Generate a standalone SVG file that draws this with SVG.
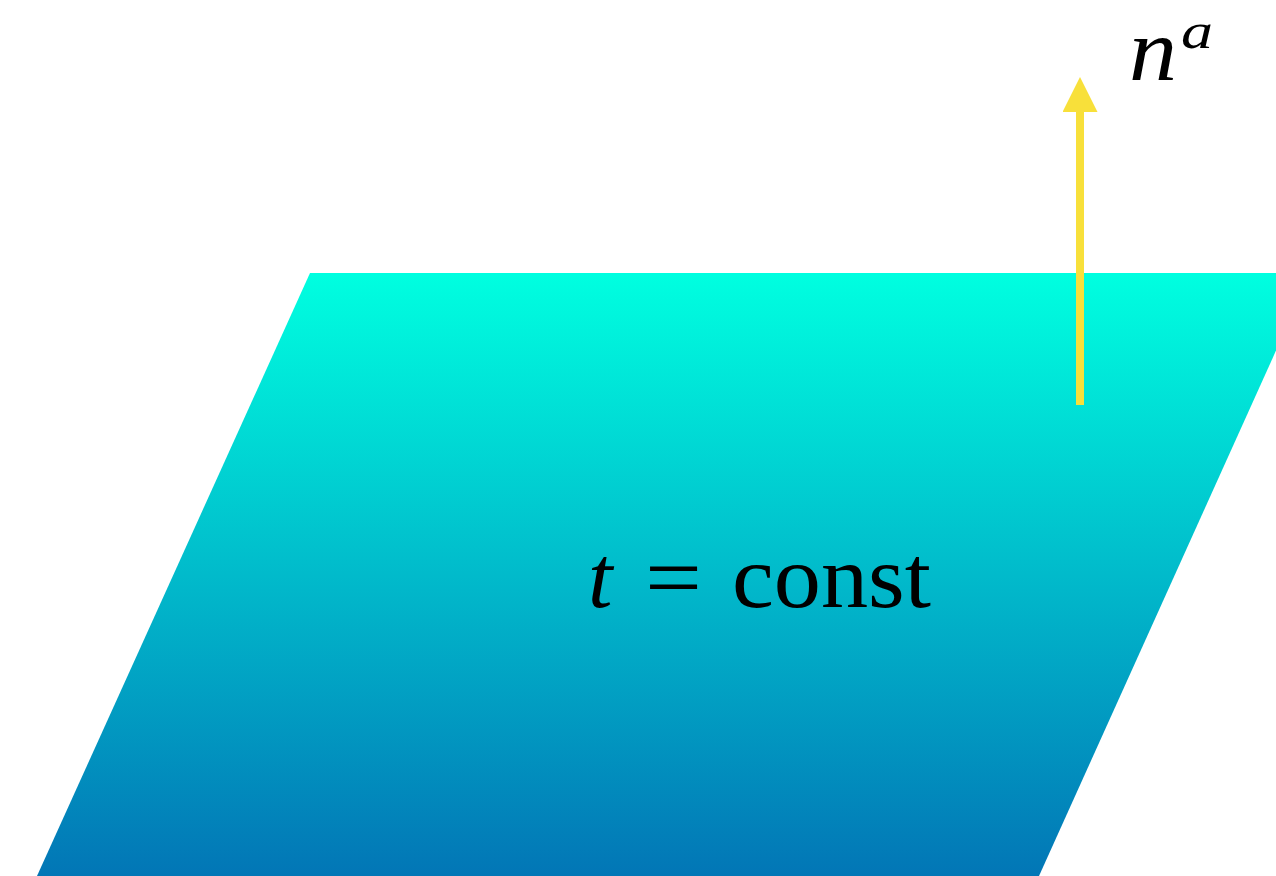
<svg xmlns="http://www.w3.org/2000/svg" width="1276" height="876" viewBox="0 0 1276 876">
  <defs>
    <linearGradient id="plane" x1="0" y1="273" x2="0" y2="876" gradientUnits="userSpaceOnUse">
      <stop offset="0" stop-color="#00FFE0"/>
      <stop offset="1" stop-color="#0276B6"/>
    </linearGradient>
    <marker id="head" viewBox="0 0 35 35" refX="0" refY="17.5" markerWidth="35" markerHeight="35" markerUnits="userSpaceOnUse" orient="auto">
      <polygon points="0,0 35,17.5 0,35" fill="#F8E03A"/>
    </marker>
    <style>
      .math { font-family: "Liberation Serif", "Times New Roman", serif; fill: #000; }
      .it { font-style: italic; }
    </style>
  </defs>
  <rect width="1276" height="876" fill="#FFFFFF"/>
  <g id="plane-node">
    <polygon points="310,273 1311,273 1039,876 37,876" fill="url(#plane)"/>
    <text class="math it" x="588" y="607" font-size="88">t</text>
    <text class="math" x="645" y="607" font-size="88" textLength="57" lengthAdjust="spacingAndGlyphs">=</text>
    <text class="math" x="732" y="607" font-size="88" textLength="199" lengthAdjust="spacingAndGlyphs">const</text>
  </g>
  <g id="label-n">
    <text class="math it" x="1129" y="80" font-size="88" textLength="48" lengthAdjust="spacingAndGlyphs">n</text>
    <text class="math it" x="1181" y="48" font-size="50" textLength="32" lengthAdjust="spacingAndGlyphs">a</text>
  </g>
  <g id="connectors">
    <line x1="1080" y1="405" x2="1080" y2="112" stroke="#F8E03A" stroke-width="8" marker-end="url(#head)"/>
  </g>
</svg>
